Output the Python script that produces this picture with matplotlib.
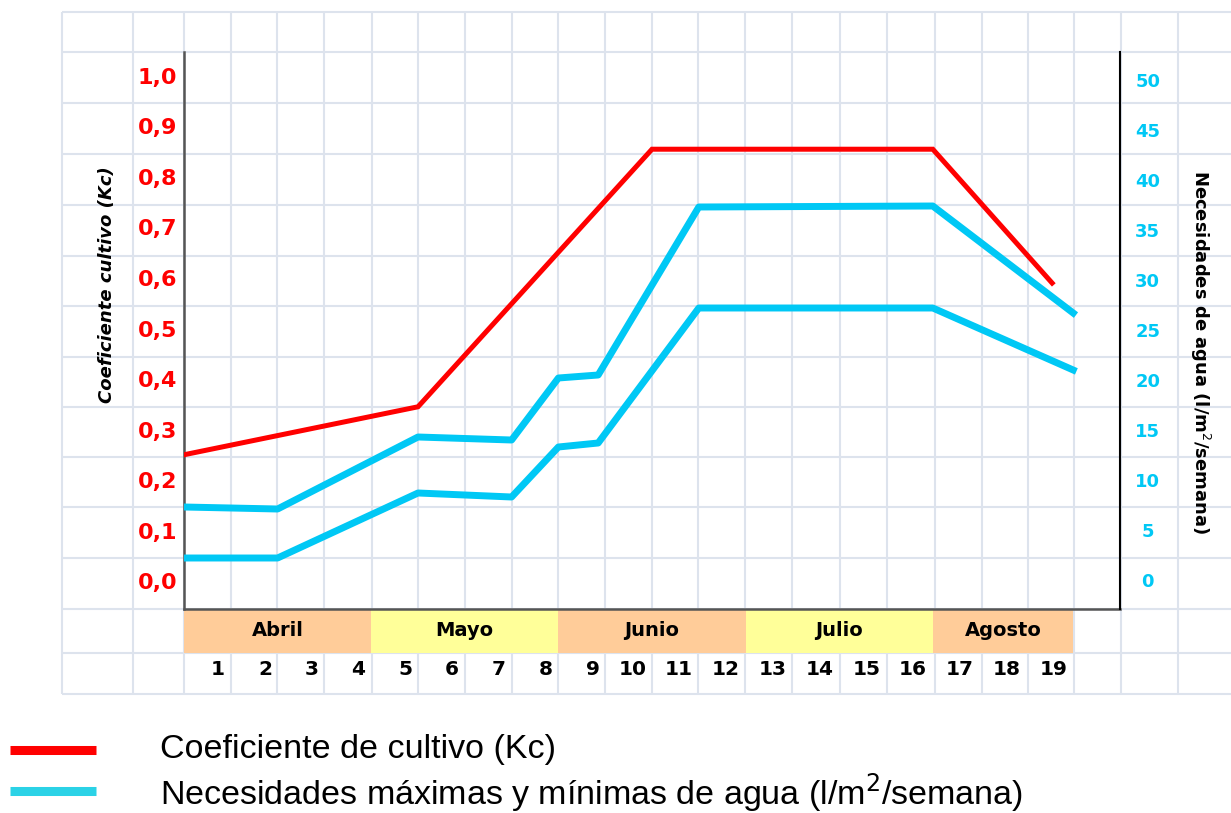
import matplotlib
matplotlib.use("Agg")
import matplotlib.pyplot as plt
from matplotlib.patches import Rectangle
from matplotlib.transforms import blended_transform_factory

# ---------------- data ----------------
weeks_kc = [0, 5, 10, 16, 18.55]
kc_values = [0.25, 0.345, 0.855, 0.855, 0.59]

weeks_water = [0, 2, 5, 7, 8, 8.85, 11, 16, 19]
water_max = [7.3, 7.1, 14.3, 14.0, 20.2, 20.5, 37.3, 37.4, 26.7]
water_min = [2.2, 2.2, 8.7, 8.3, 13.3, 13.7, 27.2, 27.2, 21.0]

months = ["Abril", "Mayo", "Junio", "Julio", "Agosto"]
month_start = [0, 4, 8, 12, 16]
month_end = [4, 8, 12, 16, 19]
week_labels = list(range(1, 20))

kc_ticks = [i / 10 for i in range(11)]
kc_ticklabels = [f"{t:.1f}".replace(".", ",") for t in kc_ticks]
water_ticks = list(range(0, 55, 5))

# ---------------- styles ----------------
RED = "#FF0000"
CYAN = "#00C8F5"
GRID = "#DDE3ED"
ORANGE = "#FFCC99"
YELLOW = "#FFFF99"

W, H = 1231, 813
fig = plt.figure(figsize=(W / 100, H / 100), dpi=100)

# background graph paper (pixel coordinates)
bg = fig.add_axes([0, 0, 1, 1], zorder=0)
bg.set_xlim(0, W)
bg.set_ylim(H, 0)
bg.axis("off")
grid_x = [62, 133, 184, 231, 277, 324, 372, 418, 465, 512, 558, 605, 652,
          698, 745, 792, 840, 887, 935, 982, 1028, 1074, 1121, 1178]
grid_y = [12, 52, 103, 154, 205, 256, 306, 357, 407, 457, 507, 558, 609, 653, 694]
bg.vlines(grid_x, 12, 694, color=GRID, lw=1.5, zorder=1)
bg.hlines(grid_y, 62, W, color=GRID, lw=1.5, zorder=1)

# main axes
ax = fig.add_axes([184 / W, (H - 609) / H, 936 / W, 557 / H], zorder=2)
ax.set_facecolor("none")
ax.set_xlim(0, 20)
ax.set_ylim(-0.0554, 1.0475)
ax.set_xticks([])
ax.set_yticks(kc_ticks)
ax.set_yticklabels(kc_ticklabels, color=RED, fontweight="bold", fontsize=16,
                   family="DejaVu Sans")
ax.tick_params(axis="y", length=0, pad=5)
for s in ["top", "right"]:
    ax.spines[s].set_visible(False)
ax.spines["left"].set_color("#555555")
ax.spines["left"].set_linewidth(1.8)
ax.spines["bottom"].set_color("#555555")
ax.spines["bottom"].set_linewidth(1.8)

ax2 = ax.twinx()
ax2.set_ylim(-2.9, 52.8)
ax2.set_yticks(water_ticks)
ax2.set_yticklabels([str(t) for t in water_ticks], color=CYAN, fontweight="bold",
                    fontsize=13, family="DejaVu Sans")
for lbl in ax2.get_yticklabels():
    lbl.set_horizontalalignment("center")
ax2.tick_params(axis="y", length=0, pad=20)
for s in ["top", "left", "bottom"]:
    ax2.spines[s].set_visible(False)
ax2.spines["right"].set_color("black")
ax2.spines["right"].set_linewidth(1.5)

# lines
ax.plot(weeks_kc, kc_values, color=RED, lw=3.6, solid_joinstyle="miter", zorder=5)
ax2.plot(weeks_water, water_max, color=CYAN, lw=5, zorder=4)
ax2.plot(weeks_water, water_min, color=CYAN, lw=5, zorder=4)

# month bands and week labels
trans = blended_transform_factory(ax.transData, bg.transData)
for i, (m, a, b) in enumerate(zip(months, month_start, month_end)):
    bg.add_patch(Rectangle((a, 609), b - a, 44, transform=trans,
                           facecolor=ORANGE if i % 2 == 0 else YELLOW,
                           edgecolor="none", zorder=2))
    bg.text((a + b) / 2, 630, m, transform=trans, ha="center", va="center",
            fontsize=14, fontweight="bold", zorder=3)
for k in week_labels:
    bg.text(k - 0.12, 669, str(k), transform=trans, ha="right", va="center",
            fontsize=14.5, fontweight="bold", zorder=3)

# axis titles
bg.text(107, 285, "Coeficiente cultivo (Kc)", rotation=90, ha="center",
        va="center", fontsize=13, fontstyle="italic", fontweight="bold", zorder=3)
bg.text(1200, 352, "Necesidades de agua (l/m$^2$/semana)", rotation=270,
        ha="center", va="center", fontsize=13, family="Liberation Sans Narrow",
        fontweight="bold", zorder=3)

# legend
bg.plot([10, 96], [750, 750], color=RED, lw=6.5, solid_capstyle="butt")
bg.plot([10, 96], [791, 791], color="#2BD2E6", lw=6.5, solid_capstyle="butt")
bg.text(160, 749, "Coeficiente de cultivo (Kc)", ha="left", va="center",
        fontsize=24.5, family="Liberation Sans")
bg.text(160, 793, "Necesidades máximas y mínimas de agua (l/m$^2$/semana)",
        ha="left", va="center", fontsize=24.5, family="Liberation Sans")

fig.savefig("out.png", dpi=100, facecolor="white")
